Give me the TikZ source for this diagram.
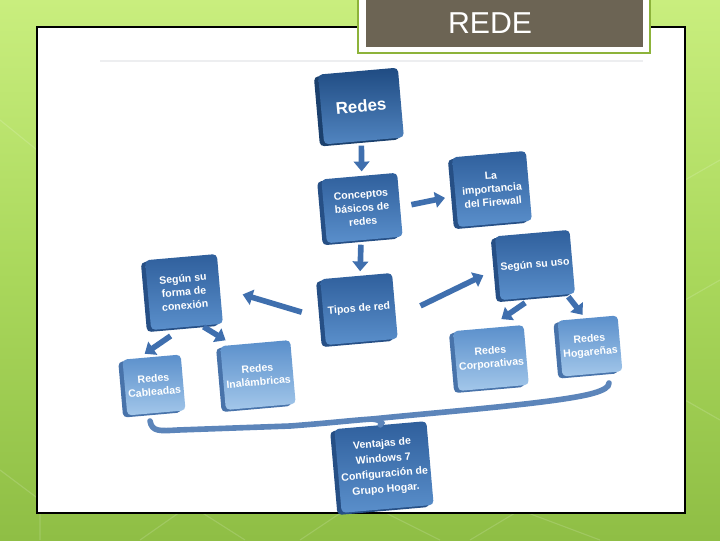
\documentclass[tikz,border=0pt]{standalone}
\usepackage{fontspec}
\setmainfont{Liberation Sans}
\setsansfont{Liberation Sans}
\usetikzlibrary{arrows.meta, shadows}
\definecolor{leafhi}{HTML}{C9EE7E}
\definecolor{leaflo}{HTML}{8FBE45}
\definecolor{leafmid}{HTML}{AAD85C}
\definecolor{olive}{HTML}{8DB33A}
\definecolor{taupe}{HTML}{6C6454}
\definecolor{rule}{HTML}{EDEEF0}
\definecolor{navy}{HTML}{1F4B82}
\definecolor{steel}{HTML}{2F5F9C}
\definecolor{sky}{HTML}{5A8FCB}
\definecolor{pale}{HTML}{A3C7EA}
\definecolor{sidedk}{HTML}{1B406D}
\definecolor{sidemd}{HTML}{264F85}
\definecolor{sidelt}{HTML}{4873AA}
\definecolor{flowblue}{HTML}{3F6FAE}

\begin{document}
\begin{tikzpicture}[x=0.025cm, y=-0.025cm,
  box/.style={rectangle, rounded corners=3pt, text=white, align=center, rotate=5,
    font=\sffamily\bfseries\fontsize{7.5}{9.6}\selectfont, inner sep=2pt},
  tonedark/.style={top color=navy, bottom color=sky!85!navy,
    drop shadow={shadow xshift=-3pt, shadow yshift=-1.5pt, fill=sidedk, opacity=1}},
  tonemid/.style={top color=steel, bottom color=sky,
    drop shadow={shadow xshift=-3pt, shadow yshift=-1.5pt, fill=sidemd, opacity=1}},
  tonelight/.style={top color=sky, bottom color=pale,
    drop shadow={shadow xshift=-3pt, shadow yshift=-1.5pt, fill=sidelt, opacity=1}},
  flow/.style={draw=flowblue, line width=4pt, -{Triangle[width=11pt,length=7pt]}},
  bus/.style={draw=flowblue!85!white, line width=4pt, line cap=round}]

\useasboundingbox (0,0) rectangle (720,540);

% Background
\shade[top color=leafhi, bottom color=leaflo, middle color=leafmid] (0,0) rectangle (720,540);
\begin{scope}[white, opacity=0.15, line width=0.8pt]
  \draw (0,470) -- (40,500) -- (40,540);
  \draw (140,540) -- (190,505) -- (245,540);
  \draw (300,540) -- (360,500) -- (440,540);
  \draw (470,540) -- (520,510) -- (600,540);
  \draw (685,300) -- (720,280);
  \draw (685,400) -- (720,420);
  \draw (685,180) -- (720,160);
  \draw (0,120) -- (37,150);
\end{scope}

% Panel
\fill[white] (37,27) rectangle (685,513);
\draw[black, line width=0.8pt] (37,27) rectangle (685,513);
\draw[rule, line width=1.5pt] (100,61) -- (643,61);

% Title
\fill[white] (358,-2) rectangle (650,53);
\draw[olive, line width=1pt] (358,-2) rectangle (650,53);
\fill[taupe] (366,-2) rectangle (643,47);
\node[text=white, font=\fontsize{21.5}{24}\selectfont] (title) at (490,23) {REDE};

% === Boxes ===
\node[box, tonedark, minimum width=2.0cm, minimum height=1.75cm,
  font=\sffamily\bfseries\fontsize{12}{14}\selectfont] (redes) at (361,106) {Redes};
\node[box, tonemid, minimum width=1.9cm, minimum height=1.6cm] (conceptos) at (362,208)
  {Conceptos\\básicos de\\redes};
\node[box, tonemid, minimum width=1.85cm, minimum height=1.75cm] (firewall) at (492,189)
  {La\\importancia\\del Firewall};
\node[box, tonemid, minimum width=1.85cm, minimum height=1.6cm] (uso) at (535,265)
  {Según su uso};
\node[box, tonemid, minimum width=1.8cm, minimum height=1.65cm] (tipos) at (359,309)
  {Tipos de red};
\node[box, tonemid, minimum width=1.8cm, minimum height=1.75cm] (conexion) at (184,292)
  {Según su\\forma de\\conexión};
\node[box, tonelight, minimum width=1.45cm, minimum height=1.4cm] (cableadas) at (154,385)
  {Redes\\Cableadas};
\node[box, tonelight, minimum width=1.75cm, minimum height=1.6cm] (inalambricas) at (258,375)
  {Redes\\Inalámbricas};
\node[box, tonelight, minimum width=1.7cm, minimum height=1.5cm] (corporativas) at (491,358)
  {Redes\\Corporativas};
\node[box, tonelight, minimum width=1.5cm, minimum height=1.4cm] (hogarenas) at (590,346)
  {Redes\\Hogareñas};
\node[box, tonemid, minimum width=2.1cm, minimum height=2.1cm,
  font=\sffamily\bfseries\fontsize{7.5}{10.8}\selectfont] (ventajas) at (384,467)
  {Ventajas de\\Windows 7\\Configuración de\\Grupo Hogar.};

% === Arrows ===
\draw[flow, shorten <=3pt, shorten >=3pt] (redes) -- (conceptos);
\draw[flow, shorten <=3pt, shorten >=3pt] (conceptos) -- (tipos);
\draw[flow] ([xshift=8pt]conceptos.east) -- ([xshift=-7pt,yshift=-4pt]firewall.west);
\draw[flow] ([xshift=-15pt]tipos.west) -- ([xshift=16pt,yshift=-4pt]conexion.east);
\draw[flow] ([xshift=18pt]tipos.east) -- ([xshift=-10pt,yshift=-5pt]uso.west);
\draw[flow] ([xshift=14pt,yshift=-4pt]conexion.south west) -- ([xshift=16pt,yshift=4pt]cableadas.north west);
\draw[flow] ([xshift=-14pt,yshift=-2pt]conexion.south east) -- ([xshift=4pt,yshift=4pt]inalambricas.north west);
\draw[flow] ([xshift=-9pt,yshift=-4pt]uso.south) -- ([xshift=-16pt,yshift=4pt]corporativas.north east);
\draw[flow] ([xshift=-5pt,yshift=-2pt]uso.south east) -- ([xshift=18pt,yshift=4pt]hogarenas.north west);

% Bottom connector
\coordinate (busL) at (150,421);
\coordinate (fork) at (372,419);
\coordinate (busR) at (609,383);
\draw[bus] (busL) .. controls (152,432) and (160,431) .. (178,430) -- (290,426)
  .. controls (330,423) and (355,420) .. (fork)
  .. controls (440,412) and (560,403) .. (594,393) .. controls (604,390) and (609,387) .. (busR);
\draw[bus] (fork) .. controls (380,420) and (384,422) .. (ventajas.north);

\end{tikzpicture}
\end{document}
